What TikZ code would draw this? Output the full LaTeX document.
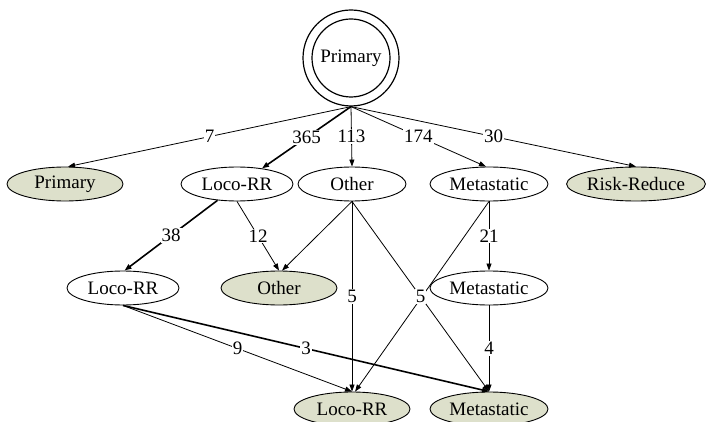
\documentclass[tikz,border=0pt]{standalone}
\usepackage{fontspec}
\setmainfont{Liberation Serif}
\usetikzlibrary{arrows.meta,shapes.geometric}
\definecolor{leafgreen}{RGB}{221,224,203}
\begin{document}
\begin{tikzpicture}[x=1pt,y=-1pt,
  font=\fontsize{19}{21}\selectfont,
  state/.style={ellipse,draw,line width=0.9pt,fill=white,minimum height=34pt,inner sep=0pt},
  leaf/.style={state,fill=leafgreen},
  flow/.style={-{Triangle[length=7pt,width=5pt]},line width=0.8pt},
  heavy/.style={flow,line width=1.6pt},
  lbl/.style={fill=white,inner sep=1pt}
]
\useasboundingbox (0,0) rectangle (706,422);

% root: double circle
\node[circle,draw,line width=1.2pt,minimum size=78pt,inner sep=0pt] (root) at (351,58) {Primary};
\node[circle,draw,line width=1.2pt,minimum size=96pt,inner sep=0pt] (ring) at (351,58) {};

% first level
\node[leaf,minimum width=116pt]  (prim1)  at (65,184)  {Primary};
\node[state,minimum width=112pt] (loco1)  at (237,184) {Loco-RR};
\node[state,minimum width=108pt] (other1) at (352,184) {Other};
\node[state,minimum width=118pt] (meta1)  at (489,184) {Metastatic};
\node[leaf,minimum width=138pt]  (risk1)  at (636,184) {Risk-Reduce};

% second level
\node[state,minimum width=112pt] (loco2)  at (123,288) {Loco-RR};
\node[leaf,minimum width=116pt]  (other2) at (279,288) {Other};
\node[state,minimum width=118pt] (meta2)  at (489,288) {Metastatic};

% third level
\node[leaf,minimum width=116pt]  (loco3)  at (352,409) {Loco-RR};
\node[leaf,minimum width=118pt]  (meta3)  at (489,409) {Metastatic};

% transitions from the root
\draw[flow]  (ring.south) -- (prim1.80)   node[lbl,pos=.5] {7};
\draw[heavy] (ring.south) -- (loco1.32)   node[lbl,pos=.5] {365};
\draw[flow]  (ring.south) -- (other1.north) node[lbl,pos=.5] {113};
\draw[flow]  (ring.south) -- (meta1.100)  node[lbl,pos=.5] {174};
\draw[flow]  (ring.south) -- (risk1.north) node[lbl,pos=.5] {30};

% transitions to the second level
\draw[heavy] (loco1.220) -- (loco2.85)    node[lbl,pos=.5] {38};
\draw[flow]  (loco1.south) -- (other2.north) node[lbl,pos=.5] {12};
\draw[flow]  (other1.south) -- (other2.80);
\draw[flow]  (meta1.south) -- (meta2.north) node[lbl,pos=.5] {21};

% transitions to the third level
\draw[flow]  (meta1.south) -- (loco3.80);
\draw[flow]  (other1.south) -- (loco3.north) node[lbl,pos=.5] {5};
\draw[flow]  (other1.south) -- (meta3.north) node[lbl,pos=.5] {5};
\draw[flow]  (meta2.south) -- (meta3.north) node[lbl,pos=.5] {4};
\draw[flow]  (loco2.south) -- (loco3.north) node[lbl,pos=.5] {9};
\draw[heavy] (loco2.south) -- (meta3.north) node[lbl,pos=.5] {3};
\end{tikzpicture}
\end{document}
